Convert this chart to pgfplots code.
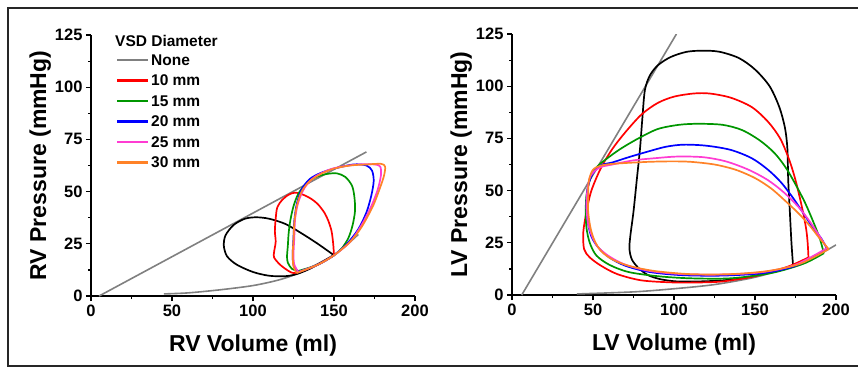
\documentclass[border=0pt]{standalone}
\usepackage{pgfplots}
\pgfplotsset{compat=1.18}
\usepackage{fontspec}
\setmainfont{Liberation Sans}
\definecolor{mygray}{RGB}{128,128,128}
\definecolor{myred}{RGB}{255,0,0}
\definecolor{mygreen}{RGB}{0,150,0}
\definecolor{myblue}{RGB}{0,0,255}
\definecolor{mypink}{RGB}{255,60,210}
\definecolor{myorange}{RGB}{255,130,40}
\newcommand{\sw}[1]{\hspace*{2pt}\textcolor{#1}{\rule[4.4pt]{31pt}{2.1pt}}\hspace{3pt}}
\pgfplotsset{
  pvstyle/.style={
    scale only axis, width=324pt, height=261pt,
    xmin=0, xmax=200, ymin=0, ymax=125,
    clip mode=individual,
    axis x line*=bottom, axis y line*=left,
    axis line style={-, line width=1.4pt},
    xtick={0,50,100,150,200}, ytick={0,25,50,75,100,125},
    minor tick num=1,
    tick align=outside,
    major tick length=5pt, minor tick length=3pt,
    every tick/.style={line width=1.2pt, black},
    tick label style={font=\bfseries\fontsize{16.5}{18}\selectfont},
    /pgf/number format/assume math mode=true,
    xticklabel style={yshift=-0.5pt},
    label style={font=\bfseries\fontsize{23}{26}\selectfont},
    xlabel style={at={(axis description cs:0.5,-0.188)}, anchor=center},
    ylabel style={at={(axis description cs:-0.157,0.5)}, anchor=center, rotate=0},
    every axis plot/.append style={line width=1.7pt, line join=round},
  }
}
\begin{document}
\begin{tikzpicture}
\useasboundingbox (0,0) rectangle (858pt,376pt);
\draw[line width=1.2pt, black!85] (900pt,368pt) -- (8pt,368pt) -- (8pt,10pt) -- (900pt,10pt);
% ---------------- RV ----------------
\begin{axis}[pvstyle, at={(91pt,80pt)}, anchor=origin,
  xlabel={RV Volume (ml)}, ylabel={RV Pressure (mmHg)}]
% ESPVR
\addplot[mygray, line width=1.6pt] coordinates {(5,0) (170,69)};
% EDPVR
\addplot[mygray, line width=1.6pt, smooth] coordinates {
(45,1) (60,1.5) (80,3) (100,5) (115,7.5) (125,10) (135,13.5) (145,17.5) (155,22.5) (165,29.5)};
% None loop
\addplot[black, smooth, tension=0.5] coordinates {
(150,19.5) (140,25) (130,30) (120,34.5) (110,37) (102,37.7) (95,37) (88,34) (83,29) (82,24) (84,19) (90,15) (100,11.5) (110,9.7) (120,9.5) (127,10.5) (135,13) (142,16) (150,19.5)};
% 10 mm
\addplot[myred, smooth, tension=0.5] coordinates {
(150,19.5) (149.5,25) (148.5,31) (146.5,36) (144,40) (140,44) (136,46.5) (131,48.5) (126,49.5) (122,48.5) (118,46) (115,42.5) (114,37) (113.5,31) (114,26) (113,21) (113,18.5) (116,15.5) (120,13) (125,11) (132,12.5) (140,15) (150,19.5)};
% 15 mm
\addplot[mygreen, smooth, tension=0.5] coordinates {
(128,12) (140,15) (150,19.5) (155,23) (159,28) (161.5,34) (163,41) (162.5,48) (161,53) (157,57) (152,58.7) (146,58.5) (139,57) (133,54) (128,49) (125,43) (123,36) (122,30) (121.5,24) (121,19) (121.5,16) (124,13) (128,12)};
% 20 mm
\addplot[myblue, smooth, tension=0.5] coordinates {
(128,11.5) (140,15) (150,19.5) (158,25) (165,32) (170,40) (173,48) (174.5,55) (173.5,60) (170,62.5) (162,63) (150,61) (142,59) (135,56) (130,51) (127,44) (125.5,36) (125,28) (124.5,20) (125,15) (128,11.5)};
% 25 mm
\addplot[mypink, smooth, tension=0.5] coordinates {
(128,11.5) (140,15) (150,19.5) (160,26) (167,34) (173,43) (177,51) (179,58) (178.5,62) (175,63) (165,63) (155,62) (147,60.5) (138,57) (132,52) (128,45) (126,37) (125.5,28) (125,20) (125.5,15) (128,11.5)};
% 30 mm
\addplot[myorange, smooth, tension=0.5] coordinates {
(127,11) (140,15) (150,19.5) (160,26) (167,33) (174,43) (178.5,52) (181,58) (181.5,62) (179,63.3) (170,63) (160,62.5) (150,61) (142,58.5) (135,55) (130,50) (127,43) (125.5,35) (125,27) (124.5,20) (125,14) (127,11)};
\node[anchor=north west, inner sep=0pt, align=left,
  font=\bfseries\fontsize{15.5}{20.5}\selectfont] at (axis description cs:0.074,1.0)
  {VSD Diameter\\[-1.5pt]
   \sw{mygray}None\\
   \sw{myred}10 mm\\
   \sw{mygreen}15 mm\\
   \sw{myblue}20 mm\\
   \sw{mypink}25 mm\\
   \sw{myorange}30 mm};
\end{axis}
% ---------------- LV ----------------
\begin{axis}[pvstyle, at={(512pt,81pt)}, anchor=origin,
  xlabel={LV Volume (ml)}, ylabel={LV Pressure (mmHg)}]
\addplot[mygray, line width=1.6pt] coordinates {(6,0) (101.5,125)};
\addplot[mygray, line width=1.6pt, smooth] coordinates {
(40,0.5) (75,1.5) (100,3) (125,5) (150,8.5) (170,13) (185,17.5) (200,24)};
% None
\addplot[black, smooth, tension=0.5] coordinates {
(173.5,14) (172.5,25) (171.5,40) (170.5,55) (170,70) (168.5,80) (165,90) (159,100) (150,108) (140,113.5) (128,116.5) (118,117) (108,116.5) (98,114) (90,110) (85,105) (82,98) (80.5,85) (79,70) (77,55) (75,40) (73,28) (72.5,22) (74,17) (78,13) (84,9.5) (92,7.5) (102,6.5) (115,6.5) (130,7) (145,8.5) (160,11) (173.5,14)};
% 10 mm
\addplot[myred, smooth, tension=0.5] coordinates {
(183,18) (182.5,25) (181.5,32) (179,42) (175,55) (171,65) (165.5,75) (158,83) (148,90) (135,94.5) (122,96.5) (112,96.5) (100,95) (90,92) (80,86.5) (70,78) (62,70) (55,61) (49,50) (46,40) (44,30) (44.5,22) (48,18) (55,14) (65,10) (80,7) (100,6) (115,6) (130,6.5) (150,9) (170,13.5) (183,18)};
% 15 mm
\addplot[mygreen, smooth, tension=0.5] coordinates {
(192.5,20) (190,27) (186,35) (181,44) (175,53) (169,61) (162,68) (153,74) (142,79) (130,81.5) (115,82) (103,81.5) (90,79.5) (78,75) (67,70) (58,65) (52,61) (48,55) (46,48) (45.5,40) (46,32) (48,25) (52,19) (60,14.5) (72,11) (90,9) (110,8) (135,8) (160,10.5) (180,15) (192.5,20)};
% 20 mm
\addplot[myblue, smooth, tension=0.5] coordinates {
(194.5,22) (191,27) (186,32) (180,39) (173,47) (166,54) (158,60) (148,65.5) (135,69.5) (120,71.5) (106,72) (95,71) (83,68.5) (72,66) (62,63.5) (54.5,62) (49,57) (46.5,50) (46,42) (47,34) (49,28) (53,23) (60,18) (70,14) (85,11) (105,9.5) (130,9.3) (155,10.5) (175,14) (194.5,22)};
% 25 mm
\addplot[mypink, smooth, tension=0.5] coordinates {
(194.5,22.5) (190,28) (184,35) (177,42) (168,49) (158,55) (146,60) (132,64) (118,66) (102,66.3) (88,65.5) (75,64.5) (62,62.5) (54,61) (48.5,57) (46.5,50) (46,42) (47,34) (49.5,28) (53,23) (60,18.5) (70,14.5) (85,11.5) (105,10) (130,9.8) (155,11) (175,14.5) (194.5,22.5)};
% 30 mm
\addplot[myorange, smooth, tension=0.5] coordinates {
(195.5,22) (190,27) (184,33) (177,39) (169.5,44.5) (160,51) (150,56) (138,60) (125,62.5) (110,63.8) (98,64) (85,63.8) (72,63.3) (62,62.8) (55,62) (50,60) (47.5,55) (47,48) (47,40) (48.5,32) (51,26) (55,21) (62,17) (72,14) (88,11.5) (110,10) (135,10) (158,11.5) (178,15) (195.5,22)};
\end{axis}
\end{tikzpicture}
\end{document}
